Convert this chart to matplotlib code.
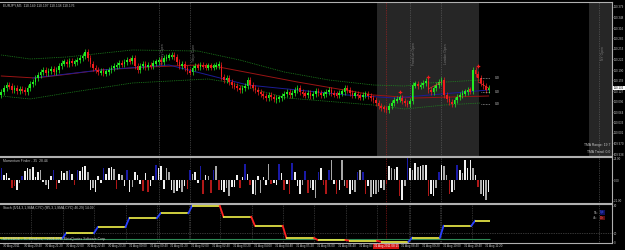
import matplotlib
matplotlib.use("Agg")
import matplotlib.pyplot as plt

plt.rcParams['font.family'] = ['Liberation Sans', 'DejaVu Sans']

# ---------------- data ----------------
first_open = 110.115
closes = [
    110.124, 110.136, 110.145, 110.142, 110.130, 110.136, 110.127, 110.133,
    110.130, 110.124, 110.136, 110.148, 110.154, 110.166, 110.175, 110.184,
    110.190, 110.181, 110.187, 110.193, 110.184, 110.190, 110.202, 110.211,
    110.214, 110.208, 110.217, 110.211, 110.214, 110.220, 110.226, 110.232,
    110.244, 110.226, 110.208, 110.196, 110.190, 110.184, 110.187, 110.181,
    110.184,
    110.190, 110.196, 110.202, 110.205, 110.211, 110.208, 110.214, 110.220,
    110.217, 110.226, 110.202, 110.190, 110.202, 110.208, 110.199, 110.205,
    110.202, 110.211, 110.214, 110.220, 110.214, 110.226, 110.229, 110.232,
    110.235, 110.229, 110.214, 110.202, 110.208, 110.196, 110.187, 110.184,
    110.196, 110.202, 110.199, 110.205, 110.202, 110.199, 110.202, 110.199,
    110.202, 110.205, 110.205, 110.169, 110.160, 110.166, 110.154, 110.145,
    110.142, 110.136, 110.130, 110.136, 110.142, 110.160, 110.145, 110.136,
    110.130, 110.124, 110.118, 110.112, 110.106, 110.115, 110.109, 110.103,
    110.104,
    110.106, 110.112, 110.118, 110.124, 110.115, 110.121, 110.130, 110.136,
    110.124, 110.118, 110.115, 110.121, 110.112, 110.118, 110.127, 110.121,
    110.115, 110.118, 110.124, 110.130, 110.121, 110.118, 110.115, 110.121,
    110.124, 110.136, 110.130, 110.121, 110.115, 110.118, 110.112, 110.109,
    110.115, 110.118, 110.112, 110.106, 110.100, 110.091, 110.082, 110.076,
    110.074,
    110.070, 110.082, 110.091, 110.100, 110.103, 110.106, 110.097, 110.091,
    110.088, 110.097, 110.145, 110.148, 110.142, 110.145, 110.151, 110.157,
    110.130, 110.124, 110.136, 110.145, 110.154, 110.160, 110.115, 110.103,
    110.094, 110.088, 110.100, 110.109, 110.115, 110.121, 110.124, 110.130,
    110.127, 110.190, 110.178, 110.166, 110.151, 110.142, 110.130, 110.136,
]

# moving averages / envelope (key points)
ma_red_bars = [0, 13, 23, 38, 56, 75, 83, 113, 142, 158, 186]
ma_red = [110.172, 110.166, 110.175, 110.190, 110.199, 110.205, 110.199, 110.154, 110.115, 110.106, 110.112]
ma_blue_bars = [12, 38, 64, 94, 132, 150, 186]
ma_blue = [110.166, 110.190, 110.205, 110.145, 110.115, 110.106, 110.130]
env_up_bars = [0, 11, 25, 50, 75, 91, 108, 125, 142, 154, 163, 183]
env_up = [110.235, 110.223, 110.229, 110.250, 110.247, 110.220, 110.184, 110.160, 110.145, 110.142, 110.151, 110.160]
env_lo_bars = [0, 11, 25, 50, 79, 86, 109, 142, 154, 169, 183]
env_lo = [110.112, 110.103, 110.121, 110.151, 110.163, 110.154, 110.106, 110.085, 110.073, 110.085, 110.091]

signal_bars = [152, 163, 182]
signal_prices = [110.124, 110.169, 110.202]
zig_segments = [([163, 168], [110.133, 110.154]), ([182, 186], [110.154, 110.136])]
level_prices = [110.166, 110.124, 110.088]
level_texts = ["0.0", "0.0", "0.0"]

session_bars = [60, 72, 156, 168, 228]
session_names = ["Sydney Open", "Tokyo Open", "Frankfurt Open", "London Open", "NY Open"]
marker_bar = 147

price_ticks = [110.379, 110.348, 110.316, 110.285, 110.253, 110.222, 110.190, 110.159,
               110.127, 110.096, 110.064, 110.033, 110.001, 109.970, 109.938]

# momentum histogram
hist_vals = [
    12, 5, 7, 2, -8, -6, -10, -3,
    4, 9, 12, 11, 13, 3, 8, 10,
    -2, -5, -9, 4, 10, -9, -3, 9,
    7, 9, 10, 6, -5, 10, 9, 13,
    14, 8, -10, -8, -12, 4, -3, 12,
    6,
    12, 13, 11, -9, 6, 5, -6, 10,
    -12, -7, 8, 5, -4, -11, 7, -12,
    -6, 4, 15, 12, 14, -9, 12, 8,
    -10, -13, -11, -8, -12, -6, -9, 10,
    6, 8, -3, 14, -14, 5, 4, -13,
    10, 14, -10, -10, -12, -8, -16, -7,
    -7, 5, -8, 3, 16, 6, -5, -14,
    -15, 4, -13, 3, -5, 16, -4, -3,
    -5,
    16, 7, -10, -4, -14, 17, 8, -6,
    -14, -5, 9, -13, -8, -10, -18, 8,
    12, -5, -14, 10, 20, -4, -14, -10,
    20, -6, -8, -14, -10, -12, 8, 10,
    8, -14, -6, -17, -14, -14, -12, -8,
    -10,
    -4, 14, 12, 11, 13, -16, -20, -6,
    22, 12, 10, 17, 13, 14, 15, 15,
    -16, -14, -16, -8, 8, 15, 14, 5,
    -14, -12, -10, 15, 10, 7, 20, 12,
    20, 12, 5, -7, -14, -16, -20, -12,
]
hist_kind = ("bwwwrrwg" "bwwgwwwg" "wgwwbrww" "wgbwrbww" "wgwgwwwb" "w"
             "wwgrwgwb" "wgwwwrwr" "wwbwwwgg" "wgwwgwrb" "gwwbrwgr"
             "bgrwwggw" "wwrwbwrw" "gwgwwgrw" "w"
             "bwrwrbww" "wgbrgwgb" "wrrbgwrw" "ggrwwgbg" "brwgwggw" "g"
             "rwggwrwg" "bwgwgwgw" "rwwgbwgg" "rwgbwgww" "wgwrgwgw")

# stochastic step levels, one per hour (12 bars)
stoch_levels = [8.9, 8.9, 20, 33, 53, 64, 80, 56, 36, 9, 4.4, 2.9, 0.7, 9.6, 36, 47]
signal_line_level = 6.7

date_labels = ["30 Aug 2011", "30 Aug 20:40", "30 Aug 21:20", "30 Aug 22:00", "30 Aug 22:40",
               "30 Aug 23:20", "31 Aug 00:00", "31 Aug 00:40", "31 Aug 01:20", "31 Aug 02:00",
               "31 Aug 02:40", "31 Aug 03:20", "31 Aug 04:00", "31 Aug 04:40", "31 Aug 05:20",
               "31 Aug 06:00", "31 Aug 06:40", "31 Aug 07:20", "31 Aug 08:00", "31 Aug 08:40",
               "31 Aug 09:20", "31 Aug 10:00", "31 Aug 10:40", "31 Aug 11:20"]

# ---------------- plotting ----------------
W, H = 625, 250
PX_PER_BAR = 2.62
XMAX = 612 / PX_PER_BAR - 0.5
FG = "#c8c8c8"
FS = 2.4

fig = plt.figure(figsize=(W / 100, H / 100), dpi=100, facecolor="black")


def panel(y0, y1):
    ax = fig.add_axes([0, 1 - y1 / H, 612 / W, (y1 - y0) / H])
    ax.set_facecolor("black")
    ax.set_xlim(-0.5, XMAX)
    ax.set_xticks([])
    ax.yaxis.tick_right()
    ax.tick_params(axis="y", colors="#909090", labelcolor=FG, labelsize=2.1,
                   length=1.0, width=0.4, pad=0.4)
    ax.spines["left"].set_visible(False)
    for s in ["top", "bottom", "right"]:
        ax.spines[s].set_color("#b0b0b0")
        ax.spines[s].set_linewidth(0.8)
    return ax


def ftext(x, y, s, **kw):
    kw.setdefault("color", FG)
    kw.setdefault("fontsize", FS)
    kw.setdefault("va", "center")
    fig.text(x / W, 1 - y / H, s, **kw)


ax1 = panel(2, 156)
ax2 = panel(157, 203)
ax3 = panel(204, 243)

# --- price panel ---
ax1.set_ylim(109.932, 110.394)
ax1.set_yticks(price_ticks)
ax1.set_yticklabels([f"{p:.3f}" for p in price_ticks])
ax1.axvspan(143.5, 182.5, color="#262626", zorder=0, lw=0)
ax1.axvspan(224.2, XMAX, color="#262626", zorder=0, lw=0)

for ax in (ax1, ax2, ax3):
    for b in session_bars:
        ax.axvline(b, color="#6a6a6a", ls=(0, (1, 1.5)), lw=0.5, zorder=1)
    ax.axvline(marker_bar, color="#c02020", ls=(0, (1, 1.5)), lw=0.5, zorder=1)

for b, name in zip(session_bars, session_names):
    ax1.text(b + 0.8, 110.240, name, rotation=90, color="#7a7a7a", fontsize=FS,
             ha="left", va="center")

ax1.plot(env_up_bars, env_up, color="#1f8a1f", ls=(0, (1, 1.2)), lw=0.6, zorder=2)
ax1.plot(env_lo_bars, env_lo, color="#1f8a1f", ls=(0, (1, 1.2)), lw=0.6, zorder=2)
ax1.plot(ma_red_bars, ma_red, color="#9a1414", lw=0.7, zorder=2)
ax1.plot(ma_blue_bars, ma_blue, color="#1c1c96", lw=0.7, zorder=2)

opens = [first_open] + closes[:-1]
wick = 0.008
min_body = 0.006
for i, (o, c) in enumerate(zip(opens, closes)):
    col = "#22ee22" if c >= o else "#ee1c1c"
    lo, hi = min(o, c), max(o, c)
    if hi - lo < min_body:
        mid = (hi + lo) / 2
        lo, hi = mid - min_body / 2, mid + min_body / 2
    ax1.vlines(i, lo - wick, hi + wick, color=col, lw=0.5, zorder=3)
    ax1.bar(i, hi - lo, bottom=lo, width=0.62, color=col, lw=0, zorder=3)

ax1.plot(signal_bars, signal_prices, "P", color="#ee1c1c", ms=2.6, mew=0, zorder=4)
for xs, ys in zig_segments:
    ax1.plot(xs, ys, color="#e03030", lw=0.5, zorder=4)
for p, t in zip(level_prices, level_texts):
    ax1.hlines(p, 183, 186.5, color=FG, ls=(0, (1, 1.2)), lw=0.5, zorder=4)
    ax1.text(188.5, p, t, color=FG, fontsize=FS, va="center")

last = closes[-1]
ax1.text(1.003, last, f"{last:.3f}", transform=ax1.get_yaxis_transform(), fontsize=2.1,
         color="black", va="center", ha="left",
         bbox=dict(boxstyle="square,pad=0.15", fc="white", ec="none"))

ftext(3, 6, "EURJPY,M5  110.149 110.197 110.138 110.176")
ftext(610, 145, "TMA Range: 19.7", ha="right")
ftext(610, 152, "TMA Trend: 0.0", ha="right")

# --- momentum histogram ---
colors = {"w": "#f0f0f0", "g": "#a8a8a8", "b": "#1a1aa6", "r": "#b01818"}
ax2.set_ylim(-23, 23)
ax2.set_yticks([21, 0, -21])
ax2.set_yticklabels(["21.00", "0.00", "-21.00"])
ax2.bar(range(len(hist_vals)), hist_vals, width=0.6,
        color=[colors[k] for k in hist_kind], lw=0, zorder=3)
ftext(3, 161, "Momentum Finder - 35  28.44")

# --- stochastic steps ---
ax3.set_ylim(-2.2, 84.4)
ax3.set_yticks([80, 20, 0])
ax3.set_yticklabels(["80", "20", "0"])
ax3.axhline(20, color="#6a6a6a", ls=(0, (1, 1.5)), lw=0.5)
for b in range(12, 181, 12):
    ax3.axvline(b - 0.5, color="#5a5a5a", ls=(0, (1, 1.5)), lw=0.5, zorder=1)
n = len(closes)
ax3.hlines(signal_line_level, -0.5, n - 0.5, color="#2e8b57", lw=0.8, zorder=2)
for k, v in enumerate(stoch_levels):
    start = 12 * k
    end = min(12 * (k + 1), n) - 0.5
    if k > 0 and v != stoch_levels[k - 1]:
        prev = stoch_levels[k - 1]
        ax3.plot([start - 0.6, start + 0.8], [prev, v],
                 color="#2840ff" if v > prev else "#ff2020", lw=1.3, zorder=3)
        ax3.hlines(v, start + 0.8, end, color="#f2f24a", lw=1.2, zorder=3)
    else:
        ax3.hlines(v, start - 0.5, end, color="#f2f24a", lw=1.2, zorder=3)
ftext(3, 208, "Stoch (5/14,3,1,SMA,CYC) (M5,3,1,SMA,CYC) 46.29) 14.09")
ftext(3, 239, "MT4 EDGE - TC Breakers, \u00a92004-2011 MetaQuotes Software Corp.")
ftext(598, 212.5, "5k:", ha="right")
ftext(600, 212.5, "Up", color="#4060ff",
      bbox=dict(boxstyle="square,pad=0.1", fc="#101060", ec="none"))
ftext(598, 218, "4k:", ha="right")
ftext(600, 218, "Dn", color="#ff5050",
      bbox=dict(boxstyle="square,pad=0.1", fc="#601010", ec="none"))

# --- time axis labels ---
for k, lab in enumerate(date_labels):
    x_px = (8 * k + 0.5) * PX_PER_BAR
    ftext(x_px + 1.5, 246.5, lab, fontsize=2.2)
# red box of the marker line sits on top of the date labels, as in MT4
ftext((marker_bar + 0.5) * PX_PER_BAR, 246.5, "31 Aug 2011 08:15", fontsize=2.2,
      color="white", ha="center",
      bbox=dict(boxstyle="square,pad=0.2", fc="#d01010", ec="none"))

fig.savefig("out.png", dpi=100, facecolor="black")
